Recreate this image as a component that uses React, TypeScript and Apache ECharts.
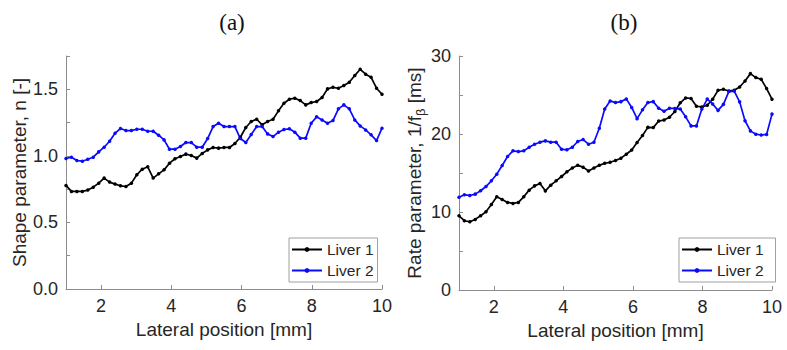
import React, { useEffect, useRef } from "react";
import * as echarts from "echarts";

// Lateral sampling grid (mm)
const POS_START = 1;
const POS_STEP = 9 / 58;
const N_POINTS = 59;

const seriesNames = ["Liver 1", "Liver 2"];

// (a) Shape parameter n [-]
const shapeLiver1 = [
  0.778, 0.733, 0.733, 0.733, 0.743, 0.765, 0.795, 0.833, 0.803, 0.788,
  0.775, 0.77, 0.795, 0.858, 0.9, 0.918, 0.833, 0.865, 0.895, 0.945,
  0.978, 0.995, 1.013, 1.003, 0.983, 1.018, 1.045, 1.063, 1.058, 1.063,
  1.063, 1.093, 1.14, 1.213, 1.258, 1.275, 1.233, 1.258, 1.275, 1.338,
  1.395, 1.425, 1.433, 1.415, 1.383, 1.4, 1.408, 1.438, 1.503, 1.515,
  1.508, 1.528, 1.553, 1.603, 1.65, 1.613, 1.59, 1.508, 1.463,
];
const shapeLiver2 = [
  0.98, 0.99, 0.965, 0.96, 0.975, 0.99, 1.03, 1.065, 1.11, 1.17,
  1.205, 1.19, 1.19, 1.2, 1.2, 1.185, 1.185, 1.155, 1.12, 1.05,
  1.05, 1.07, 1.1, 1.1, 1.065, 1.065, 1.13, 1.22, 1.245, 1.22,
  1.22, 1.22, 1.13, 1.1, 1.16, 1.22, 1.22, 1.165, 1.145, 1.178,
  1.198, 1.203, 1.178, 1.133, 1.133, 1.245, 1.293, 1.27, 1.245, 1.265,
  1.353, 1.383, 1.353, 1.27, 1.225, 1.195, 1.158, 1.115, 1.208,
];

// (b) Rate parameter 1/f_beta [ms]
const rateLiver1 = [
  9.51, 8.88, 8.75, 9.05, 9.51, 10.03, 10.97, 11.95, 11.61, 11.23,
  11.1, 11.23, 11.95, 12.8, 13.35, 13.65, 12.71, 13.44, 14.0, 14.55,
  15.15, 15.65, 15.98, 15.75, 15.26, 15.64, 15.98, 16.25, 16.37, 16.6,
  16.9, 17.4, 17.95, 18.9, 19.8, 20.85, 20.82, 21.66, 21.8, 22.15,
  22.88, 24.0, 24.62, 24.55, 23.56, 23.47, 23.69, 24.46, 25.6, 25.74,
  25.52, 25.6, 26.03, 26.8, 27.74, 27.23, 27.02, 25.82, 24.46,
];
const rateLiver2 = [
  11.9, 12.2, 12.12, 12.29, 12.72, 13.27, 14.0, 14.85, 15.96, 17.12,
  17.84, 17.75, 17.84, 18.31, 18.69, 18.95, 19.12, 18.95, 18.95, 18.05,
  17.97, 18.3, 19.04, 19.29, 18.69, 18.95, 20.74, 23.2, 24.24, 24.03,
  24.15, 24.5, 23.4, 21.97, 23.1, 24.03, 24.15, 23.3, 22.93, 23.3,
  23.28, 23.2, 22.2, 21.04, 21.04, 23.2, 24.48, 23.85, 23.03, 23.8,
  25.44, 25.5, 24.12, 21.7, 20.4, 19.98, 19.87, 19.94, 22.55,
];

const xTickValues = [2, 4, 6, 8, 10];
const shapeTicks = [0, 0.25, 0.5, 0.75, 1, 1.25, 1.5, 1.75];
const shapeLabels = [0, 0.5, 1, 1.5];
const rateTicks = [0, 5, 10, 15, 20, 25, 30];
const rateLabels = [0, 10, 20, 30];

const FONT = '"Liberation Sans", Arial, Helvetica, sans-serif';
const AXIS_COLOR = "#8c8c8c";
const TEXT_COLOR = "#262626";
const COLORS = ["#000000", "#0a0aff"];

const positions = Array.from({ length: N_POINTS }, (_, i) => POS_START + i * POS_STEP);
const pair = (vals: number[]) => vals.map((v, i) => [positions[i], v]);

function xAxisFor(gridIndex: number) {
  return {
    type: "value",
    gridIndex,
    min: 1,
    max: 10,
    name: "Lateral position [mm]",
    nameLocation: "middle",
    nameGap: 27,
    nameTextStyle: { fontFamily: FONT, fontSize: 19, color: TEXT_COLOR },
    axisLine: { show: true, lineStyle: { color: AXIS_COLOR, width: 1 } },
    axisTick: { show: true, inside: true, length: 4, customValues: xTickValues, lineStyle: { color: AXIS_COLOR } },
    axisLabel: {
      show: true,
      customValues: xTickValues,
      margin: 8,
      fontFamily: FONT,
      fontSize: 18,
      color: TEXT_COLOR,
    },
    splitLine: { show: false },
  };
}

export default function App() {
  const ref = useRef<HTMLDivElement>(null);

  useEffect(() => {
    if (!ref.current) return;
    const chart = echarts.init(ref.current, null, { renderer: "svg" });

    const lineSeries = (name: string, data: number[], idx: number, colorIdx: number) => ({
      type: "line",
      name,
      xAxisIndex: idx,
      yAxisIndex: idx,
      data: pair(data),
      symbol: "circle",
      symbolSize: 3.5,
      showSymbol: true,
      lineStyle: { color: COLORS[colorIdx], width: 1.7 },
      itemStyle: { color: COLORS[colorIdx] },
      emphasis: { disabled: true },
    });

    const legendBase = {
      orient: "vertical",
      data: seriesNames,
      itemWidth: 30,
      itemHeight: 6,
      itemGap: 2,
      backgroundColor: "#ffffff",
      borderColor: "#a0a0a0",
      borderWidth: 1,
      borderRadius: 0,
      textStyle: { fontFamily: FONT, fontSize: 15.5, color: TEXT_COLOR, lineHeight: 19 },
      selectedMode: false,
    };

    chart.setOption({
      animation: false,
      backgroundColor: "#ffffff",
      grid: [
        { left: 66, top: 56, width: 316, height: 233, containLabel: false },
        { left: 459, top: 56, width: 313, height: 234, containLabel: false },
      ],
      xAxis: [xAxisFor(0), xAxisFor(1)],
      yAxis: [
        {
          type: "value",
          gridIndex: 0,
          min: 0,
          max: 1.75,
          name: "Shape parameter, n [-]",
          nameLocation: "middle",
          nameGap: 35,
          nameTextStyle: { fontFamily: FONT, fontSize: 19, color: TEXT_COLOR },
          axisLine: { show: true, lineStyle: { color: AXIS_COLOR, width: 1 } },
          axisTick: { show: true, inside: true, length: 4, customValues: shapeTicks, lineStyle: { color: AXIS_COLOR } },
          axisLabel: {
            show: true,
            customValues: shapeLabels,
            formatter: (v: number) => v.toFixed(1),
            margin: 8,
            fontFamily: FONT,
            fontSize: 18,
            color: TEXT_COLOR,
          },
          splitLine: { show: false },
        },
        {
          type: "value",
          gridIndex: 1,
          min: 0,
          max: 30,
          name: "{a|Rate parameter, 1/f}{s|β}{a| [ms]}",
          nameLocation: "middle",
          nameGap: 30,
          nameTextStyle: {
            fontFamily: FONT,
            fontSize: 19,
            color: TEXT_COLOR,
            rich: {
              a: { fontFamily: FONT, fontSize: 19, color: TEXT_COLOR, lineHeight: 26 },
              s: { fontFamily: FONT, fontSize: 13, color: TEXT_COLOR, lineHeight: 12, verticalAlign: "bottom" },
            },
          },
          axisLine: { show: true, lineStyle: { color: AXIS_COLOR, width: 1 } },
          axisTick: { show: true, inside: true, length: 4, customValues: rateTicks, lineStyle: { color: AXIS_COLOR } },
          axisLabel: {
            show: true,
            customValues: rateLabels,
            margin: 8,
            fontFamily: FONT,
            fontSize: 18,
            color: TEXT_COLOR,
          },
          splitLine: { show: false },
        },
      ],
      legend: [
        { ...legendBase, left: 289, top: 238, padding: [2, 4, 2, 2] },
        { ...legendBase, left: 679, top: 238, padding: [2, 12, 2, 2] },
      ],
      series: [
        lineSeries(seriesNames[0], shapeLiver1, 0, 0),
        lineSeries(seriesNames[1], shapeLiver2, 0, 1),
        lineSeries(seriesNames[0], rateLiver1, 1, 0),
        lineSeries(seriesNames[1], rateLiver2, 1, 1),
      ],
      graphic: [
        {
          type: "text",
          x: 232,
          y: 22,
          style: {
            text: "(a)",
            fontFamily: '"Liberation Serif", "Times New Roman", serif',
            fontSize: 23,
            fill: "#111111",
            align: "center",
            verticalAlign: "middle",
          },
        },
        {
          type: "text",
          x: 624,
          y: 22,
          style: {
            text: "(b)",
            fontFamily: '"Liberation Serif", "Times New Roman", serif',
            fontSize: 23,
            fill: "#111111",
            align: "center",
            verticalAlign: "middle",
          },
        },
      ],
    });

    return () => chart.dispose();
  }, []);

  return (
    <div
      ref={ref}
      style={{ position: "fixed", left: 0, top: 0, width: 787, height: 350, background: "#fff" }}
    />
  );
}
